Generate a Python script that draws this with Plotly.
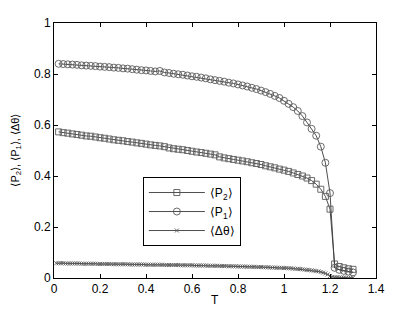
import plotly.graph_objects as go

T = [0.02, 0.04, 0.06, 0.08, 0.10, 0.12, 0.14, 0.16, 0.18, 0.20,
     0.22, 0.24, 0.26, 0.28, 0.30, 0.32, 0.34, 0.36, 0.38, 0.40,
     0.42, 0.44, 0.46, 0.48, 0.50, 0.52, 0.54, 0.56, 0.58, 0.60,
     0.62, 0.64, 0.66, 0.68, 0.70, 0.72, 0.74, 0.76, 0.78, 0.80,
     0.82, 0.84, 0.86, 0.88, 0.90, 0.92, 0.94, 0.96, 0.98, 1.00,
     1.02, 1.04, 1.06, 1.08, 1.10, 1.12, 1.14, 1.16, 1.18, 1.20,
     1.22, 1.24, 1.26, 1.28, 1.30]

P1 = [0.840, 0.839, 0.838, 0.837, 0.836, 0.834, 0.833, 0.832, 0.831, 0.829,
      0.828, 0.827, 0.825, 0.824, 0.822, 0.821, 0.819, 0.817, 0.815, 0.814,
      0.812, 0.810, 0.812, 0.806, 0.804, 0.801, 0.799, 0.797, 0.794, 0.791,
      0.789, 0.786, 0.783, 0.779, 0.776, 0.773, 0.770, 0.766, 0.763, 0.759,
      0.755, 0.751, 0.746, 0.741, 0.735, 0.729, 0.722, 0.714, 0.706, 0.695,
      0.683, 0.670, 0.655, 0.635, 0.610, 0.585, 0.558, 0.515, 0.452, 0.333,
      0.040, 0.032, 0.028, 0.025, 0.022]

P2 = [0.573, 0.570, 0.568, 0.565, 0.563, 0.560, 0.557, 0.556, 0.553, 0.550,
      0.548, 0.545, 0.542, 0.540, 0.538, 0.535, 0.533, 0.530, 0.528, 0.525,
      0.522, 0.520, 0.518, 0.515, 0.510, 0.507, 0.505, 0.503, 0.500, 0.497,
      0.494, 0.492, 0.489, 0.486, 0.483, 0.475, 0.471, 0.468, 0.465, 0.462,
      0.459, 0.456, 0.452, 0.449, 0.445, 0.440, 0.436, 0.432, 0.427, 0.423,
      0.418, 0.412, 0.406, 0.400, 0.392, 0.382, 0.368, 0.348, 0.320, 0.270,
      0.055, 0.045, 0.040, 0.036, 0.034]

T_fine = [round(0.01 * i, 2) for i in range(1, 131)]

DTHETA = [0.058, 0.058, 0.058, 0.058, 0.057, 0.057, 0.057, 0.057, 0.057, 0.057,
          0.057, 0.056, 0.056, 0.056, 0.056, 0.056, 0.056, 0.056, 0.055, 0.055,
          0.055, 0.055, 0.055, 0.055, 0.055, 0.054, 0.054, 0.054, 0.054, 0.054,
          0.054, 0.054, 0.053, 0.053, 0.053, 0.053, 0.053, 0.053, 0.053, 0.052,
          0.052, 0.052, 0.052, 0.052, 0.052, 0.052, 0.052, 0.051, 0.051, 0.051,
          0.051, 0.051, 0.051, 0.051, 0.050, 0.050, 0.050, 0.050, 0.050, 0.050,
          0.049, 0.049, 0.049, 0.049, 0.049, 0.049, 0.048, 0.048, 0.048, 0.048,
          0.048, 0.047, 0.047, 0.047, 0.047, 0.046, 0.046, 0.046, 0.046, 0.045,
          0.045, 0.045, 0.045, 0.044, 0.044, 0.044, 0.044, 0.043, 0.043, 0.043,
          0.042, 0.042, 0.042, 0.041, 0.041, 0.041, 0.040, 0.040, 0.040, 0.039,
          0.039, 0.038, 0.038, 0.037, 0.036, 0.036, 0.035, 0.034, 0.033, 0.032,
          0.031, 0.030, 0.029, 0.027, 0.026, 0.024, 0.021, 0.018, 0.014, 0.008,
          0.004, 0.003, 0.003, 0.002, 0.002, 0.002, 0.001, 0.001, 0.001, 0.001]

X_TICKS = [0, 0.2, 0.4, 0.6, 0.8, 1, 1.2, 1.4]
X_LABELS = ["0", "0.2", "0.4", "0.6", "0.8", "1", "1.2", "1.4"]
Y_TICKS = [0, 0.2, 0.4, 0.6, 0.8, 1]
Y_LABELS = ["0", "0.2", "0.4", "0.6", "0.8", "1"]

X_TITLE = "T"
Y_TITLE = "⟨P<sub>2</sub>⟩, ⟨P<sub>1</sub>⟩, ⟨Δθ⟩"

LINE = "#3a3a3a"
MARK = "#5a5a5a"
FONT = "Liberation Sans, Arial, sans-serif"

fig = go.Figure()
fig.add_trace(go.Scatter(
    x=T, y=P2, mode="lines+markers", name="⟨P<sub>2</sub>⟩",
    line=dict(color=LINE, width=0.9),
    marker=dict(symbol="square-open", size=6, color=MARK, line=dict(width=0.9, color=MARK)),
))
fig.add_trace(go.Scatter(
    x=T, y=P1, mode="lines+markers", name="⟨P<sub>1</sub>⟩",
    line=dict(color=LINE, width=0.9),
    marker=dict(symbol="circle-open", size=7, color=MARK, line=dict(width=0.9, color=MARK)),
))
fig.add_trace(go.Scatter(
    x=T_fine, y=DTHETA, mode="lines+markers", name="⟨Δθ⟩",
    line=dict(color=LINE, width=0.9),
    marker=dict(symbol="x-thin-open", size=4, color=MARK, line=dict(width=0.9, color=MARK)),
))

axis_common = dict(
    showline=True, linecolor="black", linewidth=1, mirror="ticks",
    ticks="inside", ticklen=4, tickwidth=1, tickcolor="black",
    showgrid=False, zeroline=False, automargin=False,
    tickfont=dict(family=FONT, size=12, color="black"),
)

# page body has an 8px default margin, so the figure is drawn 8px in from the corner
fig.update_layout(
    width=407, height=304,
    margin=dict(l=46, r=39, t=15, b=34),
    paper_bgcolor="white", plot_bgcolor="white",
    font=dict(family=FONT, size=12, color="black"),
    showlegend=True,
    legend=dict(
        x=0.276, y=0.396, xanchor="left", yanchor="top",
        bgcolor="white", bordercolor="black", borderwidth=1,
        font=dict(family=FONT, size=12, color="black"),
        itemwidth=56, tracegroupgap=0,
    ),
    xaxis=dict(range=[0, 1.4], tickvals=X_TICKS, ticktext=X_LABELS, **axis_common),
    yaxis=dict(range=[0, 1], tickvals=Y_TICKS, ticktext=Y_LABELS, **axis_common),
    annotations=[
        dict(text=X_TITLE, xref="paper", yref="paper", x=0.5, y=-0.086,
             xanchor="center", yanchor="middle", showarrow=False,
             font=dict(family=FONT, size=12, color="black")),
        dict(text=Y_TITLE, xref="paper", yref="paper", x=-0.121, y=0.5,
             xanchor="center", yanchor="middle", showarrow=False, textangle=-90,
             font=dict(family=FONT, size=11, color="black")),
    ],
)

fig.write_html("out.html")
